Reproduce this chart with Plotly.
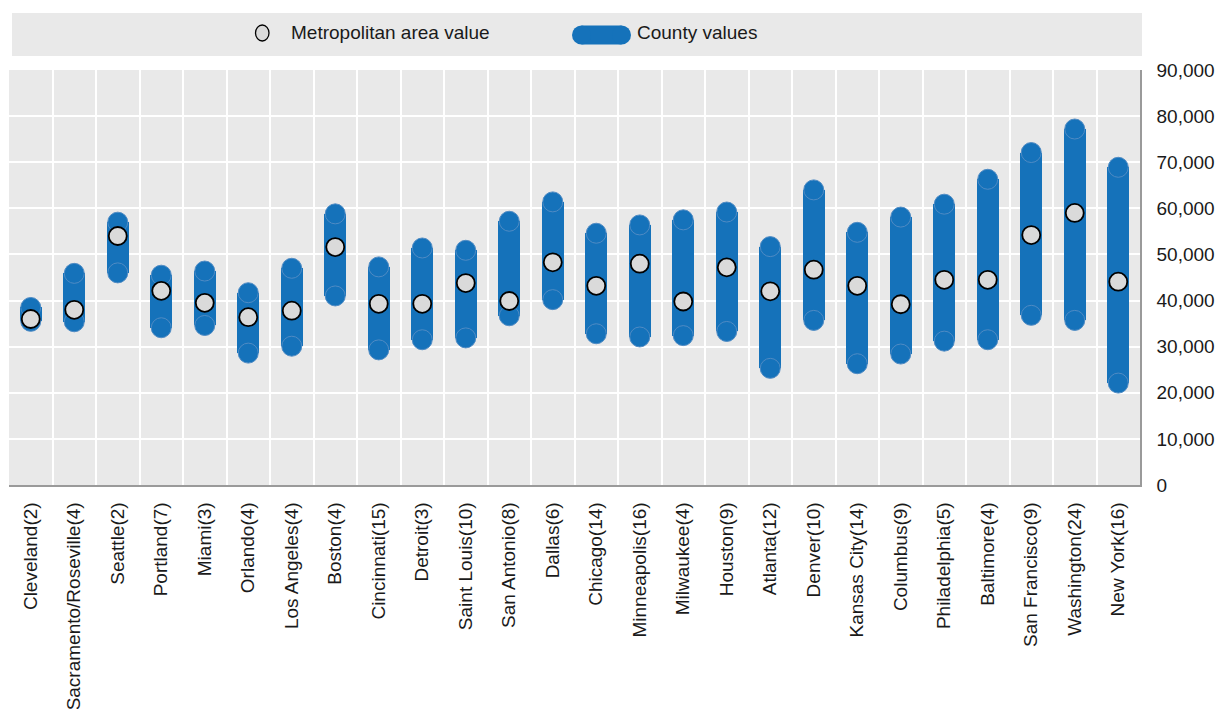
import plotly.graph_objects as go

# Metro areas (number of counties in brackets)
cities = [
    "Cleveland(2)", "Sacramento/Roseville(4)", "Seattle(2)", "Portland(7)", "Miami(3)",
    "Orlando(4)", "Los Angeles(4)", "Boston(4)", "Cincinnati(15)", "Detroit(3)",
    "Saint Louis(10)", "San Antonio(8)", "Dallas(6)", "Chicago(14)", "Minneapolis(16)",
    "Milwaukee(4)", "Houston(9)", "Atlanta(12)", "Denver(10)", "Kansas City(14)",
    "Columbus(9)", "Philadelphia(5)", "Baltimore(4)", "San Francisco(9)", "Washington(24)",
    "New York(16)",
]

# Lowest and highest county value within each metro area
county_min = [
    35500, 35400, 46000, 34100, 34600, 28600, 30100, 41000, 29300, 31500,
    31900, 36700, 40200, 32800, 32100, 32400, 33300, 25300, 35700, 26300,
    28400, 31200, 31500, 36800, 35700, 22100,
]
county_max = [
    38500, 45900, 57000, 45500, 46400, 41700, 47000, 58800, 47300, 51400,
    50900, 57200, 61400, 54600, 56400, 57500, 59200, 51700, 64000, 54800,
    58100, 60900, 66300, 72100, 77200, 68900,
]

# Value for the metropolitan area as a whole
metro_value = [
    36000, 38000, 54000, 42100, 39500, 36400, 37800, 51600, 39300, 39300,
    43800, 39900, 48300, 43200, 48000, 39800, 47200, 42000, 46700, 43200,
    39200, 44500, 44500, 54200, 59000, 44100,
]

y_ticks = [0, 10000, 20000, 30000, 40000, 50000, 60000, 70000, 80000, 90000]

BLUE = "#1572BA"
BLUE_EDGE = "#4F8BC4"
DOT = "#DADADA"
BG = "#E9E9E9"
FONT = "Liberation Sans, Arial, sans-serif"
FS = 19

W, H = 1218, 709
L, R, T, B = 9, 78, 70, 224

fig = go.Figure()

# County range bars
fig.add_trace(go.Bar(
    x=cities,
    y=[hi - lo for lo, hi in zip(county_min, county_max)],
    base=county_min,
    width=0.5,
    marker=dict(color=BLUE, line=dict(width=0)),
    showlegend=False,
    hoverinfo="skip",
))

# Rounded ends of the range bars
for vals in (county_min, county_max):
    fig.add_trace(go.Scatter(
        x=cities, y=vals, mode="markers",
        marker=dict(size=20, color=BLUE, line=dict(color=BLUE_EDGE, width=1)),
        showlegend=False, hoverinfo="skip",
    ))

# Metropolitan area value
fig.add_trace(go.Scatter(
    x=cities, y=metro_value, mode="markers",
    marker=dict(size=18, color=DOT, line=dict(color="#000000", width=1.8)),
    showlegend=False,
))


# Pixel -> paper helpers for the legend strip
def px(xp):
    return (xp - L) / (W - L - R)


def py(yp):
    return (H - B - yp) / (H - T - B)


shapes = [
    dict(type="rect", xref="paper", yref="paper",
         x0=px(12), x1=px(1142), y0=py(56), y1=py(13),
         fillcolor=BG, line=dict(width=0), layer="below"),
    # metro symbol
    dict(type="circle", xref="paper", yref="paper",
         x0=px(255.5), x1=px(269), y0=py(41), y1=py(25),
         fillcolor=DOT, line=dict(color="#000000", width=1.3)),
    # county symbol: stadium shape
    dict(type="rect", xref="paper", yref="paper",
         x0=px(581.5), x1=px(621.5), y0=py(44.5), y1=py(25.5),
         fillcolor=BLUE, line=dict(width=0)),
    dict(type="circle", xref="paper", yref="paper",
         x0=px(572), x1=px(591), y0=py(44.5), y1=py(25.5),
         fillcolor=BLUE, line=dict(width=0)),
    dict(type="circle", xref="paper", yref="paper",
         x0=px(612), x1=px(631), y0=py(44.5), y1=py(25.5),
         fillcolor=BLUE, line=dict(width=0)),
]

annotations = [
    dict(text="Metropolitan area value", xref="paper", yref="paper",
         x=px(289), y=py(32), xanchor="left", yanchor="middle", showarrow=False,
         font=dict(family=FONT, size=FS, color="#1a1a1a")),
    dict(text="County values", xref="paper", yref="paper",
         x=px(635), y=py(32), xanchor="left", yanchor="middle", showarrow=False,
         font=dict(family=FONT, size=FS, color="#1a1a1a")),
]

fig.update_layout(
    width=W, height=H,
    margin=dict(l=L, r=R, t=T, b=B, pad=0, autoexpand=False),
    paper_bgcolor="white",
    plot_bgcolor=BG,
    font=dict(family=FONT, size=FS, color="#1a1a1a"),
    shapes=shapes,
    annotations=annotations,
    bargap=0,
    showlegend=False,
    xaxis=dict(
        type="category",
        categoryorder="array", categoryarray=cities,
        range=[-0.5, len(cities) - 0.5],
        tickson="boundaries",
        automargin=False,
        showgrid=True, gridcolor="white", gridwidth=1.5,
        showline=True, linecolor="#9A9A9A", linewidth=1.5,
        ticks="", ticklabelstandoff=8,
        tickangle=-90,
        tickfont=dict(family=FONT, size=FS, color="#1a1a1a"),
        fixedrange=True,
    ),
    yaxis=dict(
        side="right",
        range=[0, 90000],
        tickvals=y_ticks,
        tickformat=",",
        automargin=False,
        showgrid=True, gridcolor="white", gridwidth=1.5,
        zeroline=False,
        showline=True, linecolor="#9A9A9A", linewidth=1.5,
        ticks="outside", ticklen=11, tickcolor="rgba(0,0,0,0)",
        tickfont=dict(family=FONT, size=FS, color="#1a1a1a"),
        fixedrange=True,
    ),
)

fig.write_html("out.html", config={"displayModeBar": False})
